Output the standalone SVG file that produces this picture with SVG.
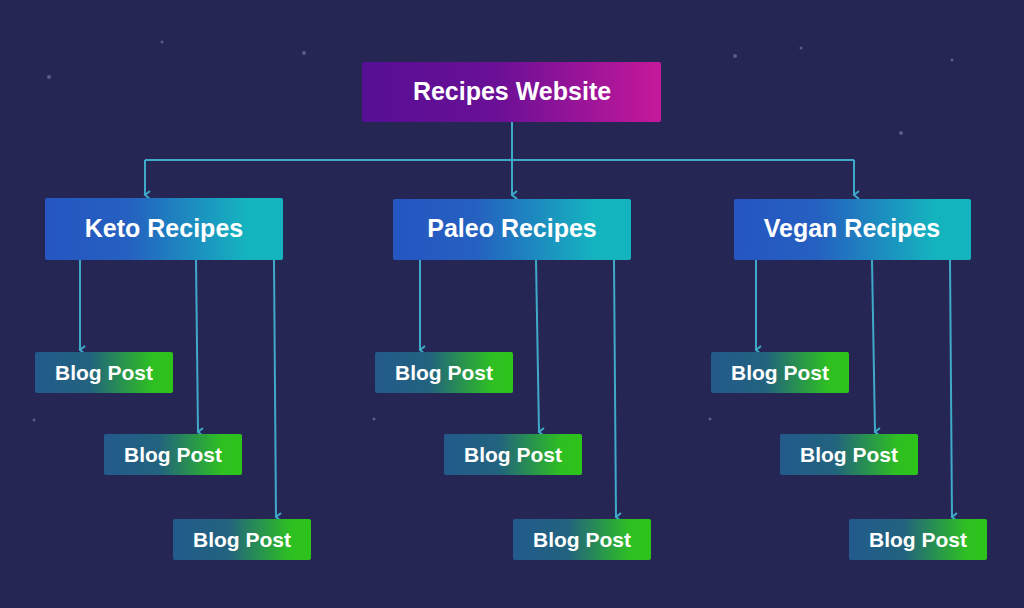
<svg xmlns="http://www.w3.org/2000/svg" width="1024" height="608" viewBox="0 0 1024 608">
<defs>
<linearGradient id="gTop" x1="0" x2="1"><stop offset="0" stop-color="#560f94"/><stop offset="0.45" stop-color="#6a1096"/><stop offset="1" stop-color="#c6189a"/></linearGradient>
<linearGradient id="gMid" x1="0" x2="1"><stop offset="0" stop-color="#2556c2"/><stop offset="0.35" stop-color="#2560c0"/><stop offset="0.85" stop-color="#14b4bf"/><stop offset="1" stop-color="#14b4bf"/></linearGradient>
<linearGradient id="gBlog" x1="0" x2="1"><stop offset="0" stop-color="#225a8c"/><stop offset="0.4" stop-color="#22637e"/><stop offset="0.85" stop-color="#2ebf22"/><stop offset="1" stop-color="#2ec41a"/></linearGradient>
<marker id="ar" markerWidth="10" markerHeight="10" refX="5" refY="8" orient="auto-start-reverse" markerUnits="userSpaceOnUse" viewBox="0 0 10 10"><path d="M1,3 L5,8 L9,3" fill="none" stroke="#3fa9c9" stroke-width="2"/></marker>
<style>
.t{font-family:"Liberation Sans",Arial,sans-serif;font-weight:bold;fill:#fff;text-anchor:middle}
.big{font-size:25px}.sm{font-size:21px}
.c{fill:none;stroke:#3fa9c9;stroke-width:2}
.s{fill:#5a5c8a}
</style>
</defs>
<rect width="1024" height="608" fill="#252654"/>
<g id="stars">
<circle class="s" cx="49" cy="77" r="2"/><circle class="s" cx="162" cy="42" r="1.5"/><circle class="s" cx="304" cy="53" r="2"/><circle class="s" cx="735" cy="56" r="2"/><circle class="s" cx="801" cy="48" r="1.5"/><circle class="s" cx="952" cy="60" r="1.5"/><circle class="s" cx="901" cy="133" r="2"/><circle class="s" cx="34" cy="420" r="1.5"/><circle class="s" cx="374" cy="419" r="1.5"/><circle class="s" cx="710" cy="419" r="1.5"/>
</g>
<g id="connectors">
<path class="c" d="M512,122 V195" marker-end="url(#ar)"/>
<path class="c" d="M145,160 H854"/>
<path class="c" d="M145,160 V195" marker-end="url(#ar)"/>
<path class="c" d="M854,160 V195" marker-end="url(#ar)"/>
<path class="c" d="M80,260 V350" marker-end="url(#ar)"/>
<path class="c" d="M196,260 L198,432" marker-end="url(#ar)"/>
<path class="c" d="M274,260 L276,517" marker-end="url(#ar)"/>
<path class="c" d="M420,260 V350" marker-end="url(#ar)"/>
<path class="c" d="M536,260 L539,432" marker-end="url(#ar)"/>
<path class="c" d="M614,260 L616,517" marker-end="url(#ar)"/>
<path class="c" d="M756,260 V350" marker-end="url(#ar)"/>
<path class="c" d="M872,260 L875,432" marker-end="url(#ar)"/>
<path class="c" d="M950,260 L952,517" marker-end="url(#ar)"/>
</g>
<g id="root"><rect x="362" y="62" width="299" height="60" rx="2" fill="url(#gTop)"/><text class="t big" x="512" y="100">Recipes Website</text></g>
<g id="keto"><rect x="45" y="198" width="238" height="62" rx="2" fill="url(#gMid)"/><text class="t big" x="164" y="237">Keto Recipes</text></g>
<g id="paleo"><rect x="393" y="199" width="238" height="61" rx="2" fill="url(#gMid)"/><text class="t big" x="512" y="237">Paleo Recipes</text></g>
<g id="vegan"><rect x="734" y="199" width="237" height="61" rx="2" fill="url(#gMid)"/><text class="t big" x="852" y="237">Vegan Recipes</text></g>
<g id="k1"><rect x="35" y="352" width="138" height="41" rx="2" fill="url(#gBlog)"/><text class="t sm" x="104" y="380">Blog Post</text></g>
<g id="k2"><rect x="104" y="434" width="138" height="41" rx="2" fill="url(#gBlog)"/><text class="t sm" x="173" y="462">Blog Post</text></g>
<g id="k3"><rect x="173" y="519" width="138" height="41" rx="2" fill="url(#gBlog)"/><text class="t sm" x="242" y="547">Blog Post</text></g>
<g id="p1"><rect x="375" y="352" width="138" height="41" rx="2" fill="url(#gBlog)"/><text class="t sm" x="444" y="380">Blog Post</text></g>
<g id="p2"><rect x="444" y="434" width="138" height="41" rx="2" fill="url(#gBlog)"/><text class="t sm" x="513" y="462">Blog Post</text></g>
<g id="p3"><rect x="513" y="519" width="138" height="41" rx="2" fill="url(#gBlog)"/><text class="t sm" x="582" y="547">Blog Post</text></g>
<g id="v1"><rect x="711" y="352" width="138" height="41" rx="2" fill="url(#gBlog)"/><text class="t sm" x="780" y="380">Blog Post</text></g>
<g id="v2"><rect x="780" y="434" width="138" height="41" rx="2" fill="url(#gBlog)"/><text class="t sm" x="849" y="462">Blog Post</text></g>
<g id="v3"><rect x="849" y="519" width="138" height="41" rx="2" fill="url(#gBlog)"/><text class="t sm" x="918" y="547">Blog Post</text></g>
</svg>
